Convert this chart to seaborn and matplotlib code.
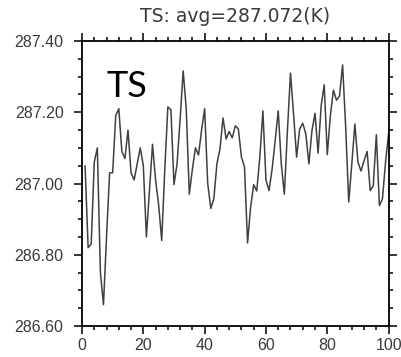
"""
plot.py - TS time series (NCL style line plot) rebuilt with seaborn.
"""

import numpy as np
import pandas as pd
import matplotlib
matplotlib.use("Agg")
import matplotlib.pyplot as plt
from matplotlib.ticker import MultipleLocator, FormatStrFormatter
import seaborn as sns

# Data
STEPS = list(range(1, 101))
TS_VALUES = [
    287.05, 286.82, 286.83, 287.06, 287.10, 286.75, 286.66, 286.85, 287.03, 287.03,
    287.19, 287.21, 287.09, 287.07, 287.15, 287.03, 287.01, 287.055, 287.10, 287.05,
    286.85, 286.98, 287.11, 287.01, 286.94, 286.84, 287.04, 287.215, 287.207, 286.997,
    287.055, 287.18, 287.316, 287.21, 286.97, 287.04, 287.10, 287.08, 287.15, 287.21,
    287.00, 286.93, 286.957, 287.055, 287.097, 287.184, 287.125, 287.146, 287.128, 287.162,
    287.153, 287.074, 287.046, 286.833, 286.934, 286.997, 286.979, 287.074, 287.204, 287.01,
    286.98, 287.04, 287.12, 287.204, 287.055, 286.97, 287.148, 287.31, 287.195, 287.074,
    287.153, 287.169, 287.139, 287.055, 287.148, 287.197, 287.085, 287.218, 287.277, 287.081,
    287.19, 287.262, 287.234, 287.246, 287.333, 287.158, 286.948, 287.055, 287.167, 287.06,
    287.035, 287.064, 287.09, 286.98, 286.994, 287.137, 286.938, 286.957, 287.06, 287.14,
]
X_TICKS = [0, 20, 40, 60, 80, 100]
Y_TICKS = [286.6, 286.8, 287.0, 287.2, 287.4]
TITLE = "TS: avg=287.072(K)"
LABEL = "TS"

W, H = 401, 357
DPI = 100


def main():
    sns.set_style("ticks")
    plt.rcParams["font.family"] = ["Liberation Sans", "DejaVu Sans"]

    df = pd.DataFrame({"step": STEPS, "ts": TS_VALUES})

    fig = plt.figure(figsize=(W / DPI, H / DPI), dpi=DPI)
    ax = fig.add_axes([82 / W, 1 - 326 / H, 306.6 / W, 285 / H])

    sns.lineplot(data=df, x="step", y="ts", ax=ax, color="#404040", linewidth=1.1)

    ax.set_xlim(0, 100)
    ax.set_ylim(286.6, 287.4)
    ax.set_xticks(X_TICKS)
    ax.set_yticks(Y_TICKS)
    ax.xaxis.set_minor_locator(MultipleLocator(4))
    ax.yaxis.set_minor_locator(MultipleLocator(0.05))
    ax.yaxis.set_major_formatter(FormatStrFormatter("%.2f"))
    ax.set_xlabel("")
    ax.set_ylabel("")

    for side in ["left", "right", "top", "bottom"]:
        ax.spines[side].set_visible(True)
        ax.spines[side].set_linewidth(1.3)
        ax.spines[side].set_color("black")

    ax.tick_params(which="both", direction="out", top=True, right=True,
                   color="black", width=1.1)
    ax.tick_params(which="major", length=5.8, labelsize=11.5, labelcolor="#3a3a3a")
    ax.tick_params(which="minor", length=3.2)
    ax.tick_params(axis="x", which="major", pad=3)
    ax.tick_params(axis="y", which="major", pad=7.5)

    # title and big label
    fig.text(235.5 / W, 1 - 22.5 / H, TITLE, ha="center", va="baseline",
             fontsize=13.5, color="#3a3a3a", family=["DejaVu Sans"])
    ax.text(106 / W, 1 - 97 / H, LABEL, transform=fig.transFigure,
            ha="left", va="baseline", fontsize=26, color="black",
            family=["Lato", "DejaVu Sans"])

    fig.savefig("out.png", dpi=DPI)
    plt.close(fig)


if __name__ == "__main__":
    main()
